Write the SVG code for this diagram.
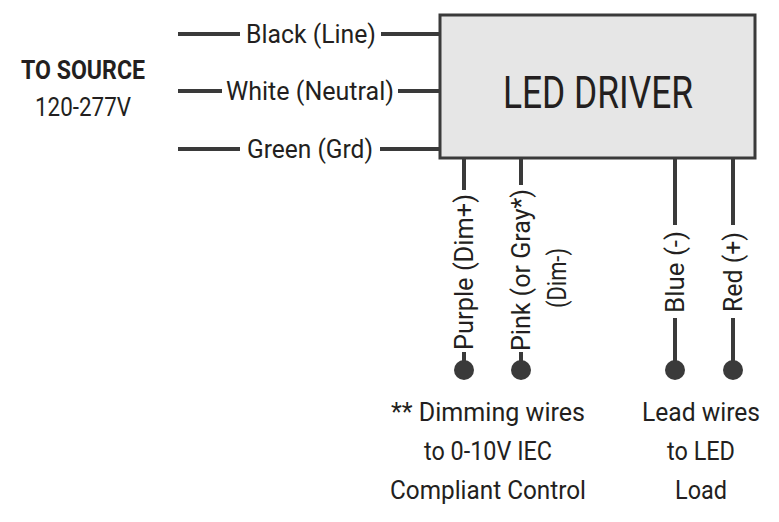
<svg xmlns="http://www.w3.org/2000/svg" width="779" height="522" viewBox="0 0 779 522">
<style>
text{font-family:Roboto,"Liberation Sans",sans-serif;fill:#231f20;font-size:26px}
.w{stroke:#3a3a3a;stroke-width:4;fill:none}
.d{fill:#3a3a3a}
</style>
<rect width="779" height="522" fill="#fff"/>
<g id="driver"><rect x="440" y="15" width="315" height="143" fill="#e6e6e6" stroke="#3a3a3a" stroke-width="3"/>
<text x="598" y="108" text-anchor="middle" style="font-size:44px" textLength="190" lengthAdjust="spacingAndGlyphs">LED DRIVER</text></g>
<g id="source"><text x="83" y="79" text-anchor="middle" font-weight="bold" textLength="124" lengthAdjust="spacingAndGlyphs">TO SOURCE</text>
<text x="83" y="116" text-anchor="middle" textLength="96" lengthAdjust="spacingAndGlyphs">120-277V</text></g>
<g id="connectors">
<path class="w" d="M178 34H240M381 34H440M178 91H222M398 91H440M178 149H240M380 149H440"/>
<path class="w" d="M464 158V190M464 352V370M521 158V185M521 352V370M675 158V225M675 318V370M733 158V225M733 318V370"/>
<circle class="d" cx="464" cy="370" r="10"/><circle class="d" cx="521" cy="370" r="10"/>
<circle class="d" cx="675" cy="370" r="10"/><circle class="d" cx="733" cy="370" r="10"/>
</g>
<g id="labels">
<text x="311" y="43" text-anchor="middle" textLength="130" lengthAdjust="spacingAndGlyphs">Black (Line)</text>
<text x="310" y="100" text-anchor="middle" textLength="168" lengthAdjust="spacingAndGlyphs">White (Neutral)</text>
<text x="310" y="158" text-anchor="middle" textLength="126" lengthAdjust="spacingAndGlyphs">Green (Grd)</text>
<text transform="translate(473 272) rotate(-90)" text-anchor="middle" textLength="156" lengthAdjust="spacingAndGlyphs">Purple (Dim+)</text>
<text transform="translate(530 270) rotate(-90)" text-anchor="middle" textLength="162" lengthAdjust="spacingAndGlyphs">Pink (or Gray*)</text>
<text transform="translate(566 278) rotate(-90)" text-anchor="middle" textLength="60" lengthAdjust="spacingAndGlyphs">(Dim-)</text>
<text transform="translate(684 272) rotate(-90)" text-anchor="middle" textLength="82" lengthAdjust="spacingAndGlyphs">Blue (-)</text>
<text transform="translate(742 272) rotate(-90)" text-anchor="middle" textLength="80" lengthAdjust="spacingAndGlyphs">Red (+)</text>
<text x="488" y="421" text-anchor="middle" textLength="194" lengthAdjust="spacingAndGlyphs">** Dimming wires</text>
<text x="488" y="460" text-anchor="middle" textLength="128" lengthAdjust="spacingAndGlyphs">to 0-10V IEC</text>
<text x="488" y="499" text-anchor="middle" textLength="196" lengthAdjust="spacingAndGlyphs">Compliant Control</text>
<text x="701" y="421" text-anchor="middle" textLength="118" lengthAdjust="spacingAndGlyphs">Lead wires</text>
<text x="701" y="460" text-anchor="middle" textLength="68" lengthAdjust="spacingAndGlyphs">to LED</text>
<text x="701" y="499" text-anchor="middle" textLength="52" lengthAdjust="spacingAndGlyphs">Load</text>
</g>
</svg>
